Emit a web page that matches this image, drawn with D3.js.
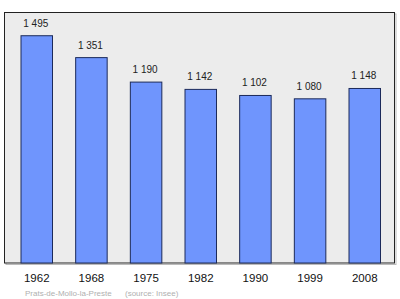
<!DOCTYPE html>
<html><head><meta charset="utf-8">
<script src="https://cdn.jsdelivr.net/npm/d3@7"></script>
<style>html,body{margin:0;padding:0;background:#fff;}svg{display:block;}</style>
</head><body>
<svg id="c" width="400" height="299"></svg>
<script>
const years = ["1962","1968","1975","1982","1990","1999","2008"];
const population = [1495, 1351, 1190, 1142, 1102, 1080, 1148];
const valueLabels = ["1 495","1 351","1 190","1 142","1 102","1 080","1 148"];
const commune = "Prats-de-Mollo-la-Preste";
const source = "(source: Insee)";

const svg = d3.select("#c");
const frame = {x0: 4.5, x1: 394.5, y0: 12.5, y1: 263};
const font = "Liberation Sans, Arial, sans-serif";

svg.append("rect").attr("x", frame.x0 + 1.5).attr("y", frame.y0 + 1.5)
  .attr("width", frame.x1 - frame.x0).attr("height", frame.y1 - frame.y0)
  .attr("fill", "none").attr("stroke", "#bbb").attr("stroke-width", 1);
svg.append("rect").attr("x", frame.x0).attr("y", frame.y0)
  .attr("width", frame.x1 - frame.x0).attr("height", frame.y1 - frame.y0)
  .attr("fill", "#ececec").attr("stroke", "#222").attr("stroke-width", 1);

const xs = d3.scalePoint().domain(years).range([21, 349]);
const bw = 31.5;
const y = d3.scaleLinear().domain([0, 1644.5]).range([263, 13]);

svg.selectAll("rect.bar").data(years).enter().append("rect").attr("class","bar")
  .attr("x", d => xs(d)).attr("width", bw)
  .attr("y", (d,i) => y(population[i])).attr("height", (d,i) => y(0) - y(population[i]))
  .attr("fill", "#6f95fd").attr("stroke", "#1c2a5a").attr("stroke-width", 1);

svg.selectAll("text.val").data(years).enter().append("text").attr("class","val")
  .attr("x", d => xs(d) + bw/2 - 1).attr("y", (d,i) => y(population[i]) - 9)
  .attr("text-anchor","middle").attr("font-family", font)
  .attr("font-size", 10).attr("fill","#222").text((d,i) => valueLabels[i]);

svg.selectAll("text.yr").data(years).enter().append("text").attr("class","yr")
  .attr("x", d => xs(d) + bw/2).attr("y", 282)
  .attr("text-anchor","middle").attr("font-family", font)
  .attr("font-size", 11.5).attr("fill","#111").text(d => d);

svg.append("text").attr("x", 25).attr("y", 296)
  .attr("font-family", font).attr("font-size", 8)
  .attr("fill","#b0b0b0").text(commune);
svg.append("text").attr("x", 125).attr("y", 296)
  .attr("font-family", font).attr("font-size", 8)
  .attr("fill","#b0b0b0").text(source);
</script>
</body></html>
